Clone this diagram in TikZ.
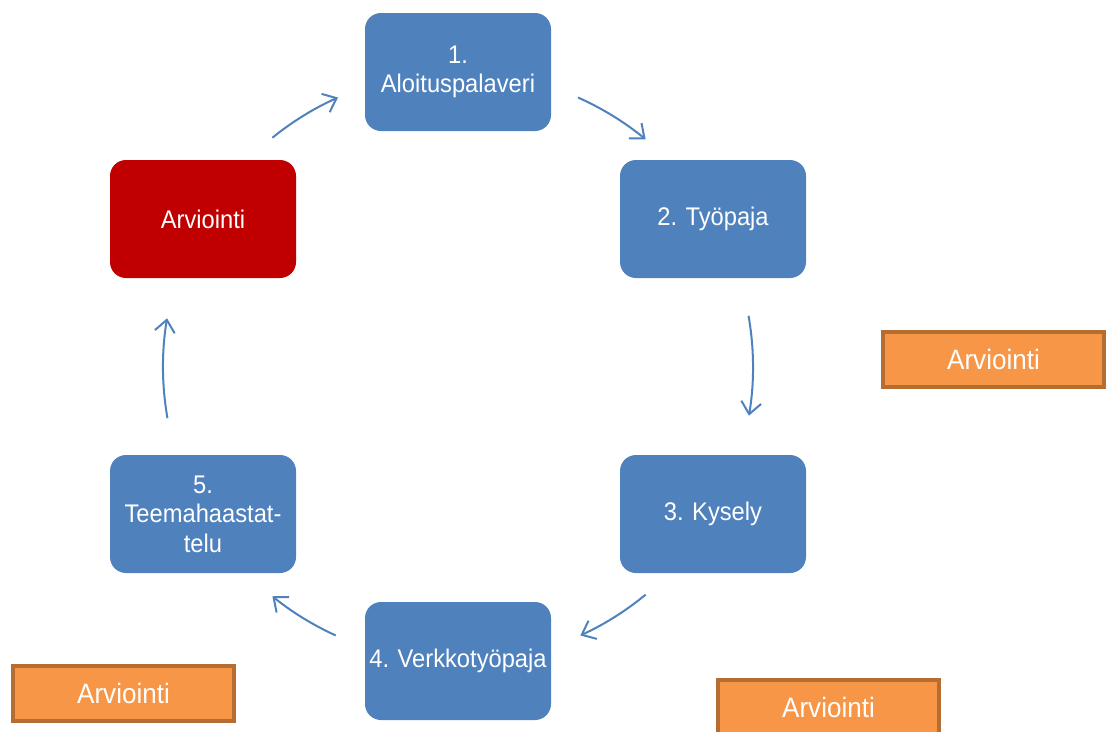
\documentclass[tikz,border=0pt]{standalone}
\usepackage{fontspec}
\setmainfont{Liberation Sans}[FakeStretch=0.93,WordSpace=0.7]
\usetikzlibrary{arrows.meta,calc}
\definecolor{stepblue}{HTML}{4F81BD}
\definecolor{evalred}{HTML}{C00000}
\definecolor{orfill}{HTML}{F79646}
\definecolor{ordraw}{HTML}{B66D31}
\frenchspacing
\tikzset{
  phase/.style={rounded corners=16pt, minimum width=186pt, minimum height=118pt,
    text width=184pt, align=center, inner sep=0pt, text=white,
    font=\fontsize{25.5}{29.5}\selectfont\frenchspacing},
  bluebox/.style={phase, fill=stepblue},
  redbox/.style={phase, fill=evalred},
  orbox/.style={fill=orfill, draw=ordraw, line width=4pt, minimum width=221pt,
    minimum height=55pt, inner sep=0pt, text=white, font=\fontsize{28}{32}\selectfont},
  cyc/.style={draw=stepblue, line width=2pt, -{Straight Barb[length=12pt,width=20pt,line width=2pt]}}
}
\begin{document}
\begin{tikzpicture}[x=1pt,y=1pt]
\useasboundingbox (0,0) rectangle (1107,-731);
\clip (0,0) rectangle (1107,-731);
\node[bluebox] (s1) at (458,-72) {1.\\Aloituspalaveri};
\node[bluebox] (s2) at (713,-219) {2. Työpaja};
\node[bluebox] (s3) at (713,-514) {3. Kysely};
\node[bluebox] (s4) at (458,-661) {4. Verkkotyöpaja};
\node[bluebox] (s5) at (203,-514) {5.\\Teemahaastat-\\telu};
\node[redbox] (ev) at (203,-219) {Arviointi};
\node[orbox] (o1) at (993.5,-359.5) {Arviointi};
\node[orbox] (o2) at (123.5,-693) {Arviointi};
\node[orbox] (o3) at (828.5,-707) {Arviointi};
\coordinate (O) at (458,-367);
\coordinate (a1) at ($(O)+(129:295)$);
\coordinate (a2) at ($(O)+(66:295)$);
\coordinate (a3) at ($(O)+(10:295)$);
\coordinate (a4) at ($(O)+(-50.5:295)$);
\coordinate (a5) at ($(O)+(-114.5:295)$);
\coordinate (a6) at ($(O)+(190:295)$);
\draw[cyc] (a1) arc[start angle=129, end angle=114, radius=295];
\draw[cyc] (a2) arc[start angle=66, end angle=50.5, radius=295];
\draw[cyc] (a3) arc[start angle=10, end angle=-9.5, radius=295];
\draw[cyc] (a4) arc[start angle=-50.5, end angle=-65.5, radius=295];
\draw[cyc] (a5) arc[start angle=-114.5, end angle=-129, radius=295];
\draw[cyc] (a6) arc[start angle=190, end angle=170.5, radius=295];
\end{tikzpicture}
\end{document}
